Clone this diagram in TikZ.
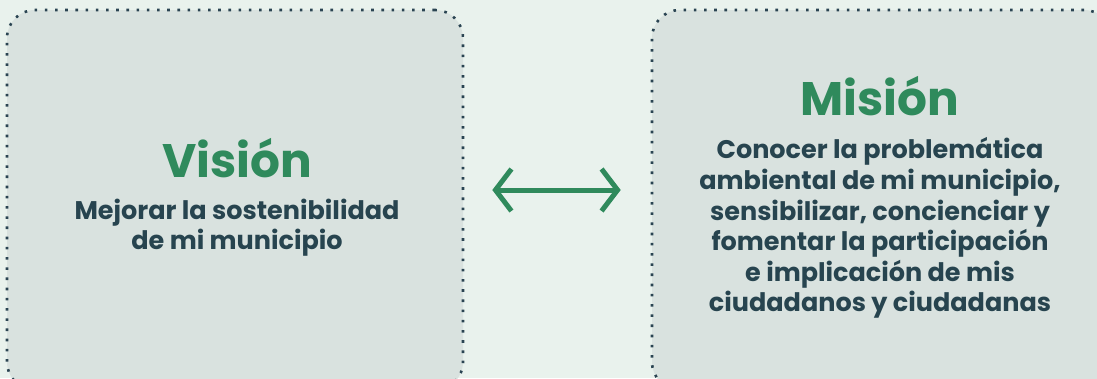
\documentclass[tikz,border=0pt]{standalone}
\usepackage{fontspec}
\setmainfont{Poppins}
\usepackage{tikz}
\usetikzlibrary{arrows.meta,positioning}
\definecolor{PanelBack}{HTML}{E9F2ED}
\definecolor{PanelFill}{HTML}{D9E2DF}
\definecolor{PanelDots}{HTML}{2A4452}
\definecolor{PanelGreen}{HTML}{2F8A5C}
\definecolor{PanelText}{HTML}{27444F}

\begin{document}
\begin{tikzpicture}[x=1pt,y=-1pt,panel/.style={draw=PanelDots,fill=PanelFill,line width=2.6pt,dash pattern=on 2.6pt off 7.6pt,rounded corners=28pt,inner sep=0pt,minimum height=380pt},heading/.style={font=\fontsize{47}{47}\selectfont\bfseries,text=PanelGreen,inner sep=0pt,anchor=base},bodytext/.style={font=\fontsize{25.5}{30.6}\selectfont\bfseries,text=PanelText,align=center,inner sep=0pt},link/.style={{Straight Barb[length=16pt,width=42pt,line width=5pt]}-{Straight Barb[length=16pt,width=42pt,line width=5pt]},line width=5pt,PanelGreen}]
  \fill[PanelBack] (0,0) rectangle (1097,378);
  \useasboundingbox (0,0) rectangle (1097,378);
  \node[panel,minimum width=456pt] (vision) at (235,200) {};
  \node[panel,minimum width=460pt] (mision) at (882,200) {};
  \node[heading] (visionhead) at (237,177) {Visión};
  \node[bodytext,below=21pt of visionhead] (visiontext) {Mejorar la sostenibilidad\\de mi municipio};
  \node[heading] (misionhead) at (880,115) {Misión};
  \node[bodytext,below=22pt of misionhead] (misiontext) {Conocer la problemática\\ambiental de mi municipio,\\sensibilizar, concienciar y\\fomentar la participación\\e implicación de mis\\ciudadanos y ciudadanas};
  \draw[link,shorten <=28pt,shorten >=30pt] ([yshift=10pt]vision.east) -- ([yshift=10pt]mision.west);
\end{tikzpicture}
\end{document}
